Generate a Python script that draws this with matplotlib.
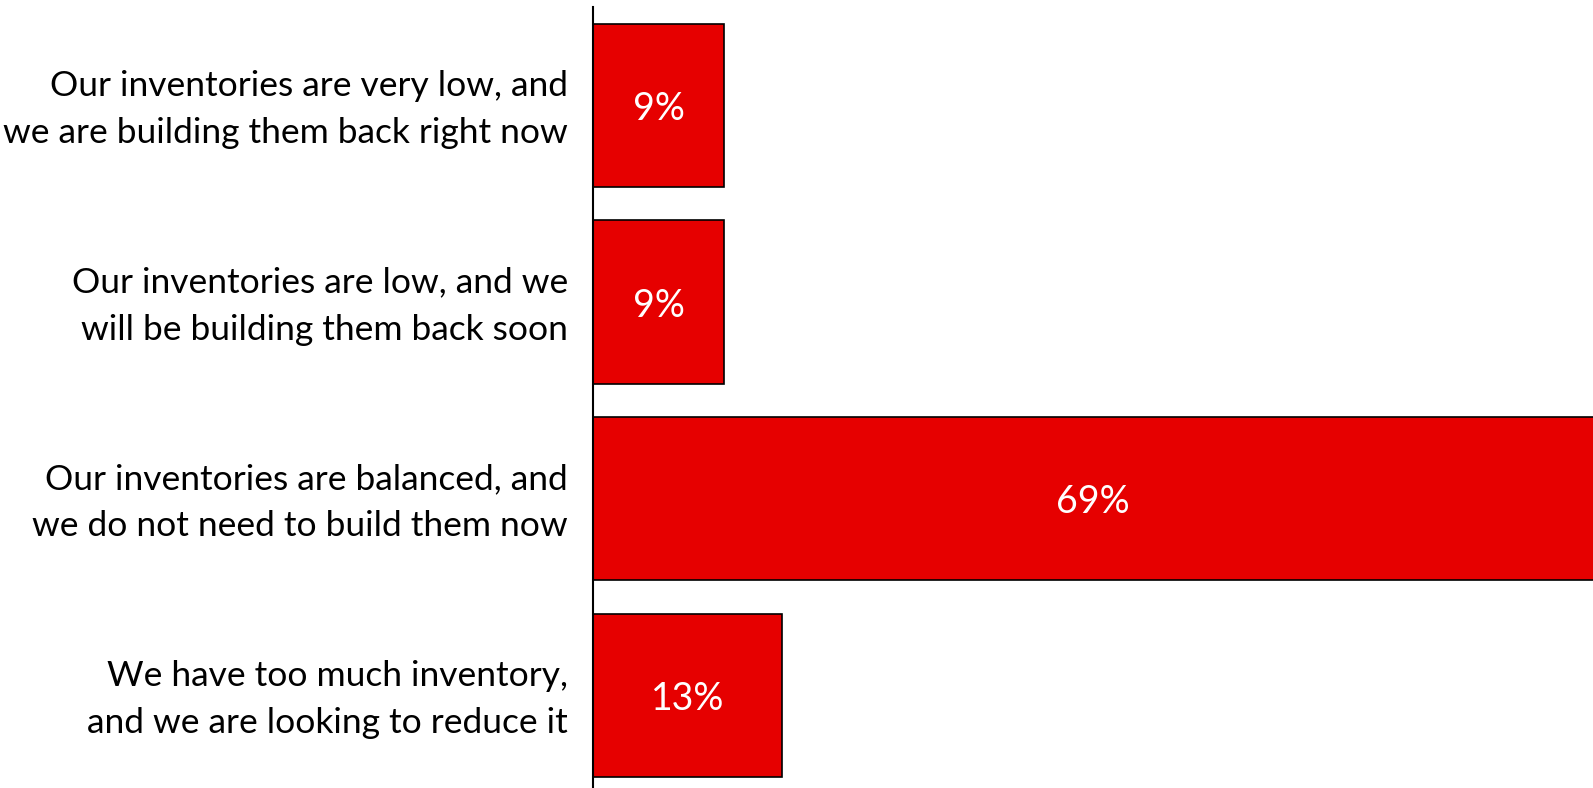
import matplotlib.pyplot as plt
import matplotlib.transforms as mtransforms

labels = [
    "Our inventories are very low, and\nwe are building them back right now",
    "Our inventories are low, and we\nwill be building them back soon",
    "Our inventories are balanced, and\nwe do not need to build them now",
    "We have too much inventory,\nand we are looking to reduce it",
]
values = [9, 9, 69, 13]
value_labels = ["9%", "9%", "69%", "13%"]

plt.rcParams["font.family"] = ["Lato", "DejaVu Sans"]

fig = plt.figure(figsize=(15.93, 7.88), dpi=100)
ax = fig.add_axes([593 / 1593, 0, 1000 / 1593, 781 / 788])

pos = range(len(values))
ax.barh(pos, values, height=0.83, color="#e60000", edgecolor="black", linewidth=1.2)

for y, v, t in zip(pos, values, value_labels):
    ax.text(min(v, 68.7) / 2, y, t, color="white", fontsize=27,
            ha="center", va="center_baseline")

ax.set_xlim(0, 68.7)
ax.set_ylim(3.47, -0.5)

ax.set_yticks(list(pos))
ax.set_yticklabels(labels, fontsize=25.5, linespacing=1.58, va="center")
ax.tick_params(axis="y", length=0, pad=18)
ax.set_xticks([])

# nudge the category labels down a little
shift = mtransforms.ScaledTranslation(0, -4 / 100, fig.dpi_scale_trans)
for lab in ax.get_yticklabels():
    lab.set_transform(lab.get_transform() + shift)

for s in ["top", "right", "bottom"]:
    ax.spines[s].set_visible(False)
ax.spines["left"].set_linewidth(1.5)

fig.savefig("out.png", dpi=100)
